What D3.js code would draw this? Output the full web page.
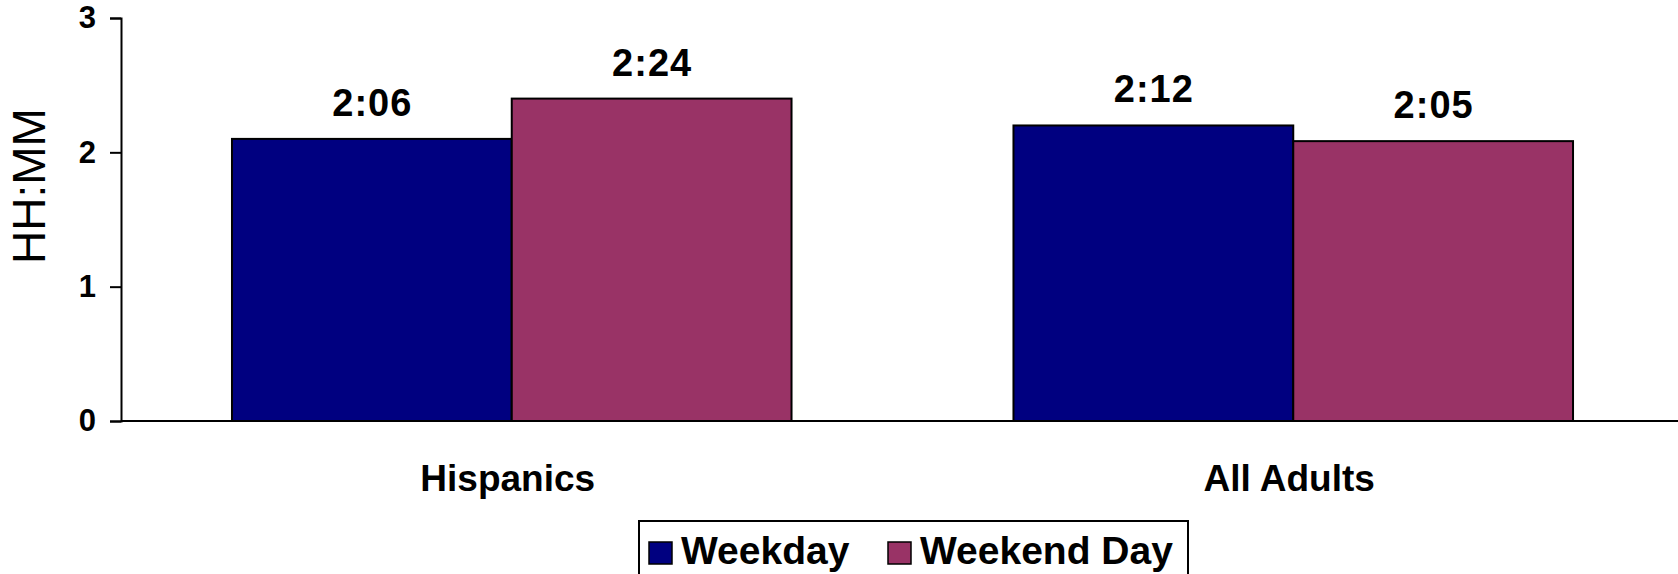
<!DOCTYPE html>
<html>
<head>
<meta charset="utf-8">
<script src="https://cdn.jsdelivr.net/npm/d3@7"></script>
<style>
  html, body { margin: 0; padding: 0; background: #fff; }
  svg { display: block; font-family: "Liberation Sans", Arial, sans-serif; }
</style>
</head>
<body>
<svg id="chart" width="1678" height="574"></svg>
<script>
// ---- data ----
const categories = ["Hispanics", "All Adults"];
const seriesNames = ["Weekday", "Weekend Day"];
const weekdayMinutes = [126, 132];   // 2:06, 2:12
const weekendMinutes = [144, 125];   // 2:24, 2:05
const yTicks = [0, 1, 2, 3];
const yTitle = "HH:MM";
const colors = ["#000080", "#993366"];

const seriesValues = [weekdayMinutes, weekendMinutes];
const fmt = m => Math.floor(m / 60) + ":" + String(m % 60).padStart(2, "0");

const svg = d3.select("#chart");
const W = 1678, H = 574;
const plot = { left: 121, top: 18, bottom: 421, right: 1684 };

const y = d3.scaleLinear().domain([0, 3]).range([plot.bottom, plot.top]);
const x0 = d3.scaleBand().domain(categories).range([plot.left, plot.right]).padding(0);
const groupW = x0.bandwidth() * 0.716;
const x1 = d3.scaleBand().domain(seriesNames).range([0, groupW]).padding(0);

// y axis
const yAxis = d3.axisLeft(y).tickValues(yTicks).tickFormat(d3.format("d")).tickSize(11).tickPadding(14);
const gy = svg.append("g").attr("transform", `translate(${plot.left},0)`).call(yAxis);
gy.select(".domain").attr("stroke", "#000").attr("stroke-width", 2);
gy.selectAll(".tick line").attr("stroke", "#000").attr("stroke-width", 2);
gy.selectAll(".tick text").attr("font-size", 31).attr("font-weight", "bold").attr("fill", "#000")
  .attr("font-family", "Liberation Sans, Arial, sans-serif");

// y title
svg.append("text")
  .attr("transform", `translate(45,186) rotate(-90)`)
  .attr("text-anchor", "middle")
  .attr("font-size", 46)
  .attr("fill", "#000")
  .text(yTitle);

// bars
const groups = svg.append("g").selectAll("g")
  .data(categories)
  .join("g")
  .attr("transform", d => `translate(${x0(d) + (x0.bandwidth() - groupW) / 2},0)`);

groups.selectAll("rect")
  .data((d, i) => seriesNames.map((s, j) => ({ s, v: seriesValues[j][i] / 60, m: seriesValues[j][i], c: colors[j] })))
  .join("rect")
  .attr("x", d => x1(d.s))
  .attr("y", d => y(d.v))
  .attr("width", x1.bandwidth())
  .attr("height", d => y(0) - y(d.v))
  .attr("fill", d => d.c)
  .attr("stroke", "#000")
  .attr("stroke-width", 2);

groups.selectAll("text.val")
  .data((d, i) => seriesNames.map((s, j) => ({ s, v: seriesValues[j][i] / 60, m: seriesValues[j][i] })))
  .join("text")
  .attr("class", "val")
  .attr("x", d => x1(d.s) + x1.bandwidth() / 2 + 0.5)
  .attr("y", d => y(d.v) - 23)
  .attr("text-anchor", "middle")
  .attr("font-size", 38)
  .attr("letter-spacing", 1)
  .attr("font-weight", "bold")
  .attr("fill", "#000")
  .text(d => fmt(d.m));

// x axis line
svg.append("line")
  .attr("x1", plot.left).attr("x2", W)
  .attr("y1", y(0)).attr("y2", y(0))
  .attr("stroke", "#000").attr("stroke-width", 2);

// category labels
svg.append("g").selectAll("text")
  .data(categories)
  .join("text")
  .attr("x", d => x0(d) + x0.bandwidth() / 2 - 4)
  .attr("y", 491)
  .attr("text-anchor", "middle")
  .attr("font-size", 37)
  .attr("font-weight", "bold")
  .attr("fill", "#000")
  .text(d => d);

// legend
const leg = svg.append("g");
leg.append("rect")
  .attr("x", 639).attr("y", 521).attr("width", 549).attr("height", 70)
  .attr("fill", "#fff").attr("stroke", "#000").attr("stroke-width", 2);
const legX = [649, 888];
seriesNames.forEach((s, j) => {
  leg.append("rect")
    .attr("x", legX[j]).attr("y", 542).attr("width", 23).attr("height", 22)
    .attr("fill", colors[j]).attr("stroke", "#000").attr("stroke-width", 1.5);
  leg.append("text")
    .attr("x", legX[j] + 32).attr("y", 564)
    .attr("font-size", 39).attr("font-weight", "bold").attr("fill", "#000")
    .text(s);
});
</script>
</body>
</html>
